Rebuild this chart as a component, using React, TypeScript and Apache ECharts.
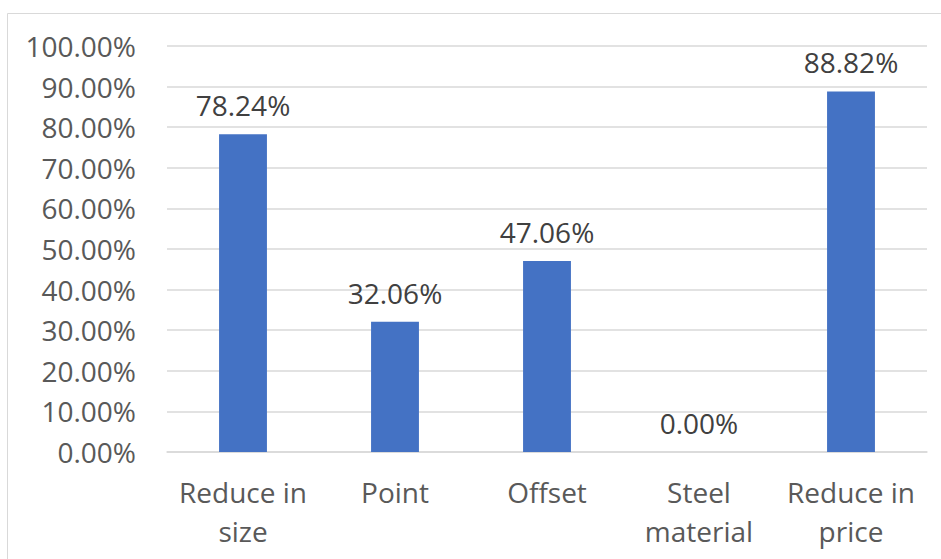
import React, { useEffect, useRef } from "react";
import * as echarts from "echarts";

const categories = ["Reduce in\nsize", "Point", "Offset", "Steel\nmaterial", "Reduce in\nprice"];
const values = [78.24, 32.06, 47.06, 0.0, 88.82];
const yTicks = { min: 0, max: 100, interval: 10 };

export default function App() {
  const ref = useRef<HTMLDivElement>(null);
  useEffect(() => {
    document.body.style.margin = "0";
    const chart = echarts.init(ref.current!, null, { renderer: "svg" });
    const font = "'Open Sans', sans-serif";
    chart.setOption({
      animation: false,
      backgroundColor: "#ffffff",
      grid: { left: 167, right: 14, top: 46, bottom: 107 },
      graphic: [
        {
          type: "rect",
          shape: { x: 7.5, y: 13.5, width: 940, height: 560 },
          style: { fill: "none", stroke: "#D9D9D9", lineWidth: 1 },
          silent: true,
        },
      ],
      xAxis: {
        type: "category",
        data: categories,
        axisLine: { show: true, lineStyle: { color: "#D9D9D9", width: 1.5 } },
        axisTick: { show: false },
        axisLabel: {
          color: "#595959",
          fontFamily: font,
          fontSize: 28,
          lineHeight: 39,
          margin: 20,
          interval: 0,
        },
      },
      yAxis: {
        type: "value",
        min: yTicks.min,
        max: yTicks.max,
        interval: yTicks.interval,
        axisLine: { show: false },
        axisTick: { show: false },
        splitLine: { lineStyle: { color: "#D9D9D9", width: 1.5 } },
        axisLabel: {
          color: "#595959",
          fontFamily: font,
          fontSize: 28,
          margin: 31,
          formatter: (v: number) => v.toFixed(2) + "%",
        },
      },
      series: [
        {
          type: "bar",
          data: values,
          barWidth: "31.5%",
          itemStyle: { color: "#4472C4" },
          label: {
            show: true,
            position: "top",
            distance: 15,
            color: "#404040",
            fontFamily: font,
            fontSize: 28,
            formatter: (p: any) => Number(p.value).toFixed(2) + "%",
          },
        },
      ],
    });
    return () => chart.dispose();
  }, []);
  return (
    <div
      ref={ref}
      style={{ position: "absolute", left: 0, top: 0, width: 941, height: 559 }}
    />
  );
}
